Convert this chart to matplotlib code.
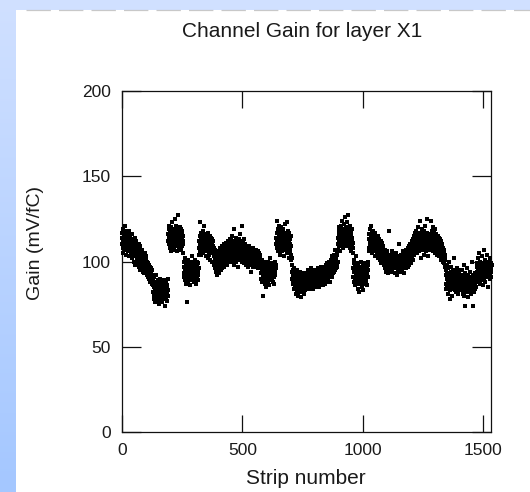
import numpy as np
import matplotlib
matplotlib.use("Agg")
import matplotlib.pyplot as plt
from matplotlib.lines import Line2D

plt.rcParams['font.family'] = ['Liberation Sans', 'DejaVu Sans']

# Measured channel gain (mV/fC), 64 strips per readout group, strips 0..1535
gain_0000 = [114, 110, 117, 108, 112, 119, 105, 113, 111, 116, 109, 121, 107, 114, 112, 104, 118, 110, 113, 115, 108, 111, 117, 106, 113, 109, 116, 112, 103, 114, 110, 118, 107, 112, 109, 115, 105, 111, 113, 108, 116, 102, 110, 107, 113, 104, 109, 112, 100, 108, 111, 105, 114, 103, 107, 110, 98, 106, 109, 104, 112, 101, 105, 108]
gain_0064 = [104, 108, 99, 106, 102, 110, 97, 105, 101, 107, 95, 103, 109, 100, 104, 98, 106, 102, 96, 103, 100, 107, 94, 101, 99, 104, 97, 102, 93, 100, 98, 105, 96, 99, 101, 94, 97, 103, 92, 98, 95, 100, 93, 97, 99, 91, 96, 94, 98, 90, 95, 93, 97, 88, 94, 92, 96, 89, 93, 91, 95, 87, 92, 90]
gain_0128 = [86, 82, 89, 80, 85, 91, 78, 84, 87, 81, 83, 76, 88, 85, 80, 92, 83, 79, 86, 82, 84, 77, 89, 81, 85, 83, 75, 87, 80, 84, 90, 82, 78, 86, 83, 81, 88, 79, 84, 76, 85, 82, 87, 80, 83, 89, 78, 84, 81, 86, 74, 83, 80, 85, 88, 79, 82, 84, 77, 86, 81, 83, 90, 80]
gain_0192 = [116, 112, 119, 110, 114, 121, 108, 117, 113, 111, 118, 106, 115, 120, 112, 109, 116, 123, 113, 110, 117, 114, 107, 119, 115, 112, 125, 111, 116, 118, 109, 114, 121, 113, 110, 117, 115, 106, 119, 112, 127, 114, 111, 116, 108, 118, 113, 120, 110, 115, 112, 117, 107, 114, 119, 111, 116, 109, 113, 118, 112, 105, 115, 110]
gain_0256 = [97, 93, 100, 91, 96, 102, 89, 95, 98, 92, 94, 87, 99, 96, 76, 93, 101, 90, 95, 97, 88, 94, 99, 92, 96, 86, 98, 93, 95, 100, 91, 94, 97, 89, 103, 95, 92, 98, 90, 96, 94, 88, 99, 93, 97, 91, 95, 101, 92, 94, 98, 87, 96, 93, 100, 90, 95, 97, 92, 99, 94, 89, 96, 104]
gain_0320 = [112, 108, 115, 106, 123, 110, 113, 117, 104, 111, 109, 114, 107, 116, 112, 105, 110, 118, 108, 113, 111, 121, 106, 114, 109, 112, 116, 103, 110, 113, 107, 115, 111, 108, 114, 102, 112, 109, 117, 106, 111, 113, 104, 110, 115, 108, 112, 101, 109, 114, 106, 111, 108, 113, 100, 110, 107, 112, 105, 109, 98, 106, 103, 108]
gain_0384 = [99, 104, 96, 101, 107, 94, 100, 103, 97, 105, 92, 99, 102, 95, 101, 106, 98, 103, 93, 100, 104, 97, 102, 108, 99, 95, 103, 101, 106, 98, 104, 100, 109, 96, 102, 105, 99, 107, 103, 97, 110, 101, 105, 99, 108, 103, 106, 100, 111, 104, 98, 107, 102, 109, 105, 101, 112, 106, 103, 108, 100, 110, 105, 113]
gain_0448 = [108, 104, 111, 101, 106, 113, 103, 109, 107, 115, 100, 105, 110, 104, 112, 98, 107, 119, 103, 109, 106, 111, 102, 108, 114, 105, 100, 110, 107, 103, 112, 106, 109, 97, 104, 111, 108, 102, 113, 106, 110, 104, 116, 101, 107, 109, 103, 112, 105, 108, 100, 121, 106, 111, 104, 109, 102, 107, 113, 105, 99, 108, 104, 110]
gain_0512 = [104, 100, 106, 98, 103, 108, 101, 105, 99, 104, 107, 97, 102, 106, 100, 103, 109, 99, 104, 101, 105, 98, 103, 107, 100, 94, 104, 102, 106, 99, 103, 101, 108, 97, 104, 100, 105, 102, 98, 106, 103, 101, 104, 99, 107, 102, 100, 105, 97, 103, 101, 106, 99, 104, 96, 102, 100, 105, 98, 103, 97, 101, 99, 104]
gain_0576 = [97, 93, 99, 90, 95, 101, 88, 94, 80, 96, 92, 98, 89, 95, 100, 91, 94, 97, 87, 93, 99, 92, 96, 85, 94, 98, 90, 95, 93, 100, 88, 96, 92, 97, 94, 86, 99, 93, 95, 91, 102, 94, 89, 97, 93, 96, 90, 98, 92, 95, 88, 94, 99, 91, 96, 93, 87, 97, 95, 92, 100, 94, 98, 96]
gain_0640 = [110, 114, 108, 124, 112, 117, 106, 113, 119, 109, 115, 111, 121, 107, 114, 110, 118, 112, 104, 116, 113, 109, 120, 111, 115, 106, 117, 112, 108, 114, 119, 110, 113, 103, 116, 111, 122, 109, 114, 107, 117, 112, 110, 123, 108, 115, 113, 105, 118, 111, 114, 109, 116, 102, 112, 117, 108, 113, 110, 106, 115, 104, 109, 101]
gain_0704 = [94, 98, 90, 102, 92, 87, 95, 89, 93, 84, 91, 96, 88, 92, 86, 94, 90, 81, 89, 93, 85, 91, 88, 95, 83, 90, 87, 92, 80, 89, 86, 93, 88, 84, 91, 87, 94, 82, 89, 86, 91, 79, 88, 85, 90, 83, 92, 87, 84, 89, 86, 93, 81, 88, 85, 90, 87, 83, 91, 86, 89, 84, 92, 88]
gain_0768 = [90, 87, 93, 85, 91, 88, 95, 86, 92, 89, 84, 94, 90, 87, 92, 86, 96, 89, 91, 85, 93, 88, 90, 94, 87, 92, 84, 89, 91, 86, 95, 88, 93, 90, 87, 92, 85, 89, 94, 91, 88, 86, 93, 90, 92, 87, 96, 89, 91, 85, 94, 88, 92, 90, 86, 93, 89, 97, 91, 88, 94, 90, 92, 95]
gain_0832 = [92, 88, 95, 90, 86, 94, 91, 97, 89, 93, 87, 96, 92, 90, 98, 88, 94, 91, 96, 93, 89, 99, 92, 95, 90, 97, 94, 100, 91, 96, 93, 88, 98, 95, 92, 101, 96, 94, 99, 91, 103, 97, 95, 100, 93, 98, 96, 104, 94, 99, 97, 102, 95, 100, 107, 98, 96, 103, 101, 97, 106, 99, 104, 100]
gain_0896 = [110, 114, 107, 118, 112, 116, 109, 120, 113, 111, 117, 106, 115, 121, 112, 118, 110, 114, 124, 116, 111, 119, 113, 108, 117, 115, 122, 112, 118, 110, 126, 114, 116, 120, 109, 117, 113, 119, 111, 123, 115, 118, 112, 116, 127, 113, 119, 110, 117, 114, 121, 108, 115, 118, 112, 116, 106, 113, 119, 110, 114, 108, 111, 105]
gain_0960 = [96, 91, 99, 88, 94, 101, 90, 95, 86, 97, 92, 103, 89, 94, 98, 87, 93, 96, 84, 92, 99, 90, 95, 88, 97, 93, 82, 91, 96, 89, 94, 100, 87, 93, 91, 97, 85, 94, 92, 98, 90, 95, 83, 92, 96, 89, 94, 91, 99, 87, 93, 95, 90, 97, 88, 94, 92, 96, 86, 93, 98, 91, 95, 100]
gain_1024 = [108, 113, 106, 116, 110, 119, 112, 107, 115, 121, 109, 114, 111, 117, 105, 113, 110, 118, 108, 115, 112, 106, 116, 111, 109, 114, 103, 112, 117, 108, 111, 106, 114, 109, 113, 104, 110, 107, 115, 102, 111, 108, 113, 105, 109, 112, 101, 107, 110, 104, 112, 106, 99, 108, 105, 111, 103, 107, 100, 109, 104, 106, 98, 105]
gain_1088 = [102, 98, 105, 96, 100, 107, 94, 101, 99, 104, 97, 103, 100, 95, 106, 99, 102, 93, 100, 118, 97, 103, 99, 101, 96, 104, 98, 100, 95, 102, 99, 106, 97, 101, 94, 100, 103, 98, 101, 96, 99, 104, 97, 100, 93, 102, 98, 101, 96, 99, 105, 97, 100, 92, 98, 103, 95, 100, 97, 101, 94, 99, 110, 98]
gain_1152 = [99, 103, 96, 101, 97, 104, 94, 100, 98, 102, 95, 99, 103, 97, 101, 106, 96, 100, 98, 104, 93, 102, 99, 105, 97, 101, 103, 96, 107, 100, 98, 104, 102, 99, 108, 101, 97, 105, 103, 100, 109, 98, 104, 106, 101, 110, 103, 99, 107, 105, 112, 102, 108, 104, 111, 106, 101, 113, 107, 105, 115, 109, 104, 117]
gain_1216 = [113, 109, 116, 107, 112, 118, 110, 114, 105, 111, 117, 108, 113, 120, 109, 115, 111, 106, 116, 112, 124, 110, 114, 108, 117, 113, 102, 111, 115, 109, 119, 112, 107, 114, 110, 116, 104, 113, 118, 111, 109, 115, 121, 108, 112, 116, 110, 113, 106, 117, 111, 114, 125, 109, 112, 115, 103, 110, 113, 108, 116, 111, 107, 114]
gain_1280 = [111, 124, 108, 115, 110, 118, 107, 113, 116, 109, 114, 120, 106, 112, 117, 110, 113, 108, 115, 111, 119, 105, 112, 114, 109, 116, 107, 111, 113, 104, 110, 115, 108, 112, 106, 114, 109, 111, 103, 108, 113, 106, 110, 101, 108, 112, 105, 109, 103, 107, 110, 100, 106, 104, 108, 99, 105, 102, 107, 98, 104, 101, 97, 103]
gain_1344 = [92, 87, 95, 84, 90, 98, 86, 93, 81, 89, 96, 88, 91, 85, 100, 87, 92, 83, 78, 90, 94, 86, 89, 97, 84, 91, 88, 93, 80, 87, 95, 90, 85, 92, 88, 102, 86, 91, 83, 89, 94, 87, 90, 82, 88, 96, 85, 91, 89, 84, 93, 87, 90, 81, 88, 94, 86, 92, 89, 83, 91, 87, 95, 88]
gain_1408 = [89, 85, 92, 83, 88, 95, 81, 87, 91, 86, 98, 84, 89, 80, 90, 86, 93, 82, 74, 88, 85, 91, 87, 83, 96, 86, 89, 84, 92, 79, 87, 90, 85, 88, 82, 94, 86, 89, 84, 91, 87, 81, 88, 85, 100, 83, 89, 86, 92, 84, 88, 74, 90, 85, 87, 82, 93, 86, 89, 84, 91, 88, 85, 90]
gain_1472 = [94, 99, 91, 97, 88, 95, 102, 93, 96, 90, 98, 105, 92, 95, 87, 97, 100, 94, 89, 96, 93, 103, 91, 98, 95, 86, 94, 99, 92, 97, 107, 93, 96, 90, 98, 94, 101, 88, 95, 97, 92, 99, 94, 104, 91, 96, 93, 98, 85, 95, 100, 92, 97, 94, 102, 90, 96, 93, 99, 95, 91, 97, 94, 98]

x_ticks = [0, 500, 1000, 1500]
y_ticks = [0, 50, 100, 150, 200]

groups = [gain_0000, gain_0064, gain_0128, gain_0192, gain_0256, gain_0320,
          gain_0384, gain_0448, gain_0512, gain_0576, gain_0640, gain_0704,
          gain_0768, gain_0832, gain_0896, gain_0960, gain_1024, gain_1088,
          gain_1152, gain_1216, gain_1280, gain_1344, gain_1408, gain_1472]
gain = np.concatenate([np.asarray(g, dtype=float) for g in groups])
strip = np.arange(len(gain))

W, H = 530, 492
fig = plt.figure(figsize=(W / 100, H / 100), dpi=100, facecolor='white')

# Slide-style backdrop: blue gradient band on the left, pale band on top
grad_ax = fig.add_axes([0, 0, 16 / W, 1])
top_rgb = np.array([208, 224, 255]) / 255
bot_rgb = np.array([164, 199, 255]) / 255
t = np.linspace(0, 1, 256)[:, None]
grad = (top_rgb[None, :] * (1 - t) + bot_rgb[None, :] * t)[:, None, :]
grad_ax.imshow(grad, aspect='auto', extent=[0, 1, 0, 1])
grad_ax.set_axis_off()

band_ax = fig.add_axes([0, 1 - 9.5 / H, 1, 9.5 / H])
band_ax.set_facecolor((208 / 255, 224 / 255, 255 / 255))
band_ax.set_xticks([])
band_ax.set_yticks([])
for s in band_ax.spines.values():
    s.set_visible(False)

fig.add_artist(Line2D([26 / W, 1], [1 - 10 / H, 1 - 10 / H], transform=fig.transFigure,
                      color='#c8c8c8', lw=0.9, dashes=(19.5, 6.5)))

ax = fig.add_axes([122 / W, 1 - 432 / H, (491 - 122) / W, (432 - 91) / H])
ax.set_facecolor('white')
ax.plot(strip, gain, linestyle='none', marker='s', ms=3.1, mew=0,
        color='black', clip_on=False, zorder=3)

ax.set_xlim(0, 1532)
ax.set_ylim(0, 200)
ax.set_xticks(x_ticks)
ax.set_yticks(y_ticks)
for s in ax.spines.values():
    s.set_linewidth(0.9)
    s.set_color('#111111')
ax.tick_params(axis='both', direction='in', width=0.9, color='#111111',
               top=True, right=True, labelsize=12.5, labelcolor='#1a1a1a', pad=8)
ax.tick_params(axis='x', length=12.5)
ax.tick_params(axis='y', length=14)

fig.text(302 / W, 1 - 37 / H, 'Channel Gain for layer X1', ha='center', va='baseline',
         fontsize=15, color='#1a1a1a')
fig.text(306 / W, 1 - 484 / H, 'Strip number', ha='center', va='baseline',
         fontsize=15, color='#1a1a1a')
fig.text(36 / W, 1 - 242.5 / H, 'Gain (mV/fC)', ha='center', va='center',
         rotation=90, fontsize=14, color='#1a1a1a')

fig.savefig('out.png', dpi=100, facecolor='white')
